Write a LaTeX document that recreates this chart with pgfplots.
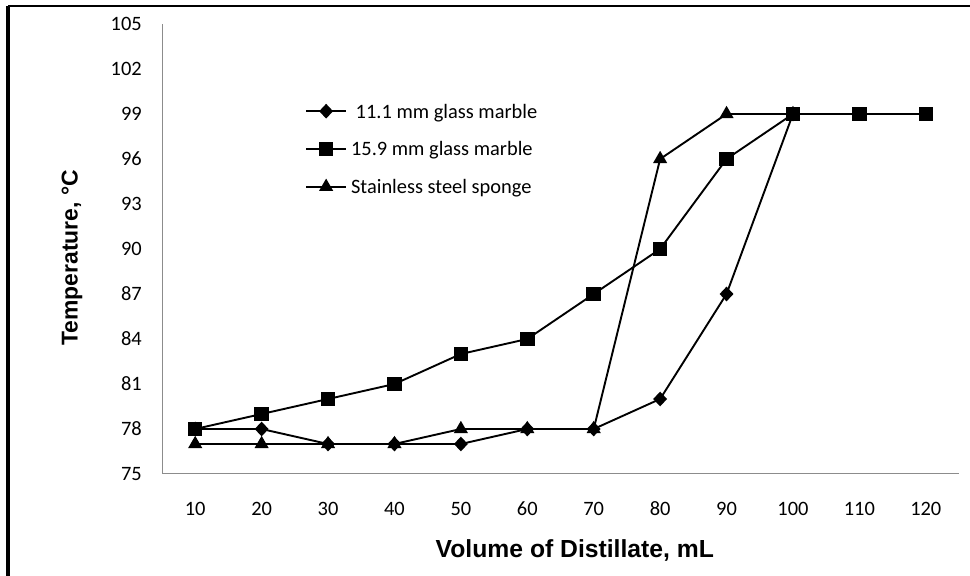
\documentclass[border=0pt]{standalone}
\usepackage{pgfplots}
\pgfplotsset{compat=1.18}
\usepackage{fontspec}
\setmainfont{Carlito}
\newfontfamily\arialfont{Liberation Sans}
\definecolor{axisgray}{RGB}{140,140,140}
\begin{document}
\begin{tikzpicture}
\path[use as bounding box] (0,0) rectangle (970bp,576bp);
% frame of the original figure
\draw[line width=3.5bp] (8bp,0) -- (8bp,570bp);
\draw[line width=1.5bp] (8bp,570bp) -- (970bp,570bp);
\begin{axis}[
    at={(162bp,102bp)}, anchor=south west,
    scale only axis,
    width=797bp, height=450bp,
    xmin=5, xmax=125,
    ymin=75, ymax=105,
    xtick={10,20,...,120},
    ytick={75,78,...,105},
    axis x line*=bottom,
    axis y line*=left,
    axis line style={axisgray, line width=1bp, -},
    major tick length=0pt,
    tick style={draw=none},
    /pgf/number format/assume math mode=true,
    tick label style={font=\fontsize{20.5}{24}\selectfont, inner sep=0pt},
    xticklabel style={anchor=north, yshift=-28bp, text height=13bp, text depth=0pt},
    yticklabel style={anchor=east, xshift=-20bp},
    xlabel={Volume of Distillate, mL},
    ylabel={Temperature, \textdegree C},
    xlabel style={font=\arialfont\bfseries\fontsize{24.8}{28}\selectfont,
        at={(rel axis cs:0.518,-0.169)}, anchor=center},
    ylabel style={font=\arialfont\bfseries\fontsize{23}{26}\selectfont,
        at={(rel axis cs:-0.113,0.48)}, anchor=center},
    legend style={draw=none, fill=none, at={(rel axis cs:0.1794,0.82)},
        anchor=north west, inner sep=0pt, row sep=20.5bp, column sep=4bp,
        font=\fontsize{20.5}{24}\selectfont,
        nodes={inner sep=0pt, text height=10bp, text depth=4bp}},
    legend cell align=left,
    legend image code/.code={
        \draw[mark repeat=2, mark phase=2]
            plot coordinates {(0bp,4bp) (20bp,4bp) (40bp,4bp)};},
    every axis plot/.append style={black, line width=1.9bp},
]
\addplot[mark=diamond*, mark size=6bp, mark options={xscale=1.25}] coordinates {
    (10,78) (20,78) (30,77) (40,77) (50,77) (60,78) (70,78) (80,80) (90,87) (100,99)
};
\addlegendentry{\ 11.1 mm glass marble}
\addplot[mark=square*, mark size=6.3bp] coordinates {
    (10,78) (20,79) (30,80) (40,81) (50,83) (60,84) (70,87) (80,90) (90,96) (100,99) (110,99) (120,99)
};
\addlegendentry{15.9 mm glass marble}
\addplot[mark=triangle*, mark size=6.3bp] coordinates {
    (10,77) (20,77) (30,77) (40,77) (50,78) (60,78) (70,78) (80,96) (90,99) (100,99)
};
\addlegendentry{Stainless steel sponge}
\end{axis}
\end{tikzpicture}
\end{document}
